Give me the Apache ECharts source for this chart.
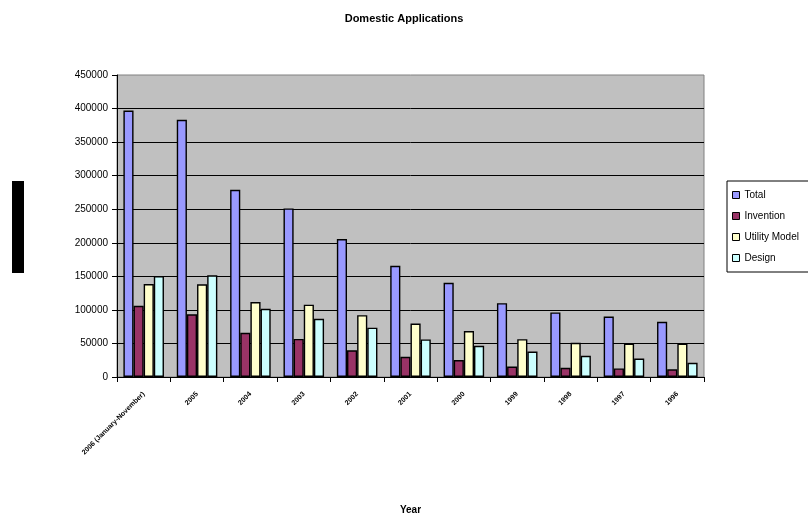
<!DOCTYPE html>
<html>
<head>
<meta charset="utf-8">
<script src="https://cdn.jsdelivr.net/npm/echarts@6/dist/echarts.min.js"></script>
<style>
  html, body { margin: 0; padding: 0; background: #fff; }
  #chart { width: 808px; height: 520px; }
</style>
</head>
<body>
<div id="chart"></div>
<script>
// Domestic patent applications by year
const years = ['2006 (January-November)', '2005', '2004', '2003', '2002', '2001', '2000', '1999', '1998', '1997', '1996'];
const total = [397000, 383157, 278943, 251238, 205544, 165773, 140339, 109958, 96233, 90071, 82207];
const invention = [106000, 93485, 65786, 56769, 39806, 30038, 25346, 15596, 13726, 12713, 11471];
const utilityModel = [138500, 138085, 111578, 107842, 92166, 79722, 68461, 56368, 50902, 49902, 49604];
const design = [150500, 151587, 101579, 86627, 73572, 56013, 46532, 37994, 31605, 27456, 21132];
const yTicks = { min: 0, max: 450000, interval: 50000 };

const font = 'Liberation Sans, Arial, sans-serif';
const chart = echarts.init(document.getElementById('chart'), null, { renderer: 'canvas' });

function bar(name, data, color) {
  return {
    name: name,
    type: 'bar',
    data: data,
    barGap: '0%',
    barCategoryGap: '24%',
    itemStyle: { color: color, borderColor: '#000', borderWidth: 1.4 },
    emphasis: { disabled: true }
  };
}

chart.setOption({
  animation: false,
  backgroundColor: '#fff',
  title: {
    text: 'Domestic Applications',
    left: 'center',
    top: 8,
    textStyle: { fontFamily: font, fontSize: 11, fontWeight: 'bold', color: '#000' }
  },
  legend: {
    orient: 'vertical',
    left: 727,
    top: 181,
    align: 'left',
    padding: [8, 14, 8, 5],
    itemWidth: 7,
    itemHeight: 7,
    itemGap: 9,
    backgroundColor: '#fff',
    borderColor: '#000',
    borderWidth: 1,
    borderRadius: 0,
    icon: 'rect',
    textStyle: { fontFamily: font, fontSize: 10, color: '#000', lineHeight: 12 },
    itemStyle: { borderColor: '#000', borderWidth: 1 },
    data: ['Total', 'Invention', 'Utility Model', 'Design']
  },
  grid: {
    left: 117,
    right: 104,
    top: 75,
    bottom: 142,
    show: true,
    backgroundColor: '#c0c0c0',
    borderColor: '#808080',
    borderWidth: 1
  },
  xAxis: {
    type: 'category',
    data: years,
    name: 'Year',
    nameLocation: 'middle',
    nameGap: 128,
    nameTextStyle: { fontFamily: font, fontSize: 10, fontWeight: 'bold', color: '#000' },
    axisLine: { lineStyle: { color: '#000', width: 1 } },
    axisTick: { show: true, alignWithLabel: false, length: 5, lineStyle: { color: '#000' } },
    axisLabel: { rotate: 45, fontFamily: font, fontSize: 7, fontWeight: 'bold', color: '#000', margin: 16, interval: 0 }
  },
  yAxis: {
    type: 'value',
    min: yTicks.min,
    max: yTicks.max,
    interval: yTicks.interval,
    axisLine: { show: true, lineStyle: { color: '#000', width: 1 } },
    axisTick: { show: true, length: 5, lineStyle: { color: '#000' } },
    axisLabel: { fontFamily: font, fontSize: 10, color: '#000', margin: 9, formatter: function (v) { return String(v); } },
    splitLine: { show: true, showMaxLine: false, lineStyle: { color: '#000', width: 1 } }
  },
  series: [
    bar('Total', total, '#9999ff'),
    bar('Invention', invention, '#993366'),
    bar('Utility Model', utilityModel, '#ffffcc'),
    bar('Design', design, '#ccffff')
  ],
  graphic: [
    // solid block at the left edge beside the value axis
    { type: 'rect', left: 12, top: 181, shape: { width: 12, height: 92 }, style: { fill: '#000' } }
  ]
});
</script>
</body>
</html>
